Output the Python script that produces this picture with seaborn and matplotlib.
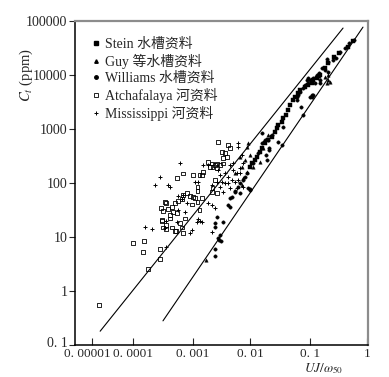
import matplotlib
matplotlib.use("Agg")
import numpy as np
import pandas as pd
import matplotlib.pyplot as plt
import seaborn as sns
from matplotlib.lines import Line2D
from matplotlib.ticker import FixedLocator, NullLocator
from matplotlib.transforms import ScaledTranslation

# ─── Data ────────────────────────────────────────────────────────────────────
stein_x = [0.57, 0.47, 0.32, 0.26, 0.21, 0.18, 0.15, 0.133, 0.113, 0.108, 0.093, 0.083,
           0.068, 0.063, 0.056, 0.052, 0.046, 0.043, 0.04, 0.035, 0.034, 0.029, 0.028,
           0.026, 0.023, 0.02, 0.018, 0.016, 0.0147, 0.013, 0.012, 0.0108, 0.01]
stein_c = [43000, 33000, 25500, 21500, 16700, 13500, 10000, 8800, 8100, 7100, 6500, 6000,
           5300, 4600, 3900, 3400, 2800, 2250, 1800, 1600, 1340, 1180, 1040,
           880, 710, 630, 550, 445, 375, 300, 270, 230, 200]

williams_x = [0.59, 0.48, 0.41, 0.34, 0.29, 0.25, 0.21, 0.2, 0.18, 0.16, 0.145, 0.133,
              0.113, 0.1, 0.093, 0.083, 0.076, 0.068, 0.063, 0.06, 0.093, 0.089, 0.15,
              0.122, 0.108, 0.1, 0.21, 0.15, 0.113, 0.108, 0.076, 0.071, 0.06, 0.034,
              0.029, 0.021, 0.0185, 0.035,
              0.0089, 0.0082, 0.0075, 0.0066, 0.0062, 0.0055, 0.0048, 0.01, 0.01, 0.0066,
              0.0055, 0.0041, 0.0044, 0.0034, 0.0026, 0.003, 0.0029, 0.0031, 0.0024,
              0.0024, 0.0027, 0.0024, 0.0024, 0.0135, 0.016, 0.018, 0.021, 0.019, 0.0112,
              0.0044, 0.016, 0.02, 0.023, 0.0093]
williams_c = [44500, 39000, 31600, 26700, 20700, 19000, 17400, 19800, 12400, 13500, 10900, 10000,
              8900, 8100, 7100, 6500, 5700, 4800, 4300, 3900, 8900, 8100, 7100,
              7100, 4300, 3900, 11400, 8100, 4300, 3900, 1800, 2550, 3400, 500,
              580, 410, 330, 1090,
              153, 129, 114, 100, 84, 68, 54, 74, 77, 65,
              72, 39, 36, 19, 23.5, 11, 8.8, 8.4, 6.0,
              18, 9.6, 15, 4.5, 360, 550, 630, 445, 270, 230,
              53, 840, 630, 770, 81]

guy_x = [0.0017, 0.0055, 0.010, 0.0112, 0.0147, 0.0165, 0.020, 0.0089, 0.0075, 0.0072,
         0.0089, 0.0092, 0.0066, 0.0082, 0.0072, 0.225, 0.21, 0.183, 0.145, 0.122, 0.2, 0.21]
guy_c = [3.7, 153, 330, 200, 245, 445, 780, 160, 124, 92,
         460, 550, 300, 267, 200, 7400, 8100, 9200, 9600, 9200, 7200, 10000]

atch_x = [1.5e-5, 1.0e-4, 1.5e-4, 1.45e-4, 1.8e-4, 2.8e-4, 2.8e-4,
          2.9e-4, 3.0e-4, 3.5e-4, 4.2e-4, 4.5e-4, 4.6e-4, 5.0e-4, 5.4e-4, 3.5e-4, 3.6e-4,
          4.5e-4, 5.0e-4, 6.1e-4, 6.6e-4, 6.8e-4, 7.4e-4, 6.8e-4, 7.9e-4, 8.9e-4, 1.1e-3,
          1.2e-3, 1.2e-3, 9.5e-4, 3.2e-4, 3.8e-4, 3.4e-4, 5.6e-4, 6.6e-4, 1.0e-3, 4.1e-4,
          3.0e-4, 3.2e-4, 5.3e-4, 1.3e-3, 1.45e-3,
          5.4e-4, 6.8e-4, 1.0e-3, 1.45e-3, 1.5e-3, 1.8e-3, 2.15e-3, 2.7e-3, 2.4e-3, 2.6e-3,
          4.1e-3, 4.4e-3, 3.2e-3, 3.6e-3, 3.4e-3, 4.0e-3, 2.6e-3, 3.0e-3, 2.2e-3, 3.4e-3,
          2.4e-3, 2.2e-3, 2.15e-3, 2.6e-3, 2.0e-3, 1.3e-3, 1.2e-3]
atch_c = [0.55, 7.7, 8.5, 5.3, 2.6, 6.0, 3.9,
          34, 21, 43, 26, 36, 29, 42, 28, 17, 14,
          15, 13, 18, 15, 12, 22, 60, 65, 58, 53,
          45, 70, 40, 30, 33, 45, 46, 50, 55, 22,
          20, 15, 13, 32, 53,
          125, 150, 140, 140, 160, 245, 230, 570, 215, 190,
          500, 450, 375, 360, 290, 300, 230, 215, 200, 230,
          115, 80, 68, 65, 200, 140, 85]

miss_x = [3.6e-4, 2.1e-4, 2.3e-4, 4.1e-4, 2.8e-4, 6.1e-4, 1.1e-3, 1.2e-3, 1.5e-3,
          6.8e-4, 5.6e-4, 6.6e-4, 7.9e-4, 8.9e-4, 9.6e-4, 3.6e-4, 5.6e-4, 1.18e-3, 7.4e-4,
          3.4e-4, 5.4e-4, 1.2e-3, 1.33e-3, 1.44e-3, 1.83e-3, 2.15e-3, 2.4e-3,
          6.2e-3, 6.2e-3, 7.2e-3, 5.0e-3, 4.4e-3, 3.6e-3, 3.0e-3, 4.1e-3, 4.8e-3, 3.25e-3,
          3.6e-3, 5.5e-3, 5.9e-3, 4.4e-3, 3.0e-3, 3.4e-3, 6.6e-3, 2.7e-3, 7.5e-3, 6.6e-3,
          5.9e-3, 5.0e-3, 6.2e-3, 4.1e-3, 7.5e-3, 2.15e-3, 2.6e-3, 1.8e-3, 2.15e-3,
          1.6e-4, 3.8e-4]
miss_c = [6.5, 14, 92, 85, 130, 235, 105, 105, 215,
          60, 58, 50, 43, 12, 13.4, 20, 32, 19, 29,
          14.7, 19, 22, 20, 19, 43, 39, 34,
          550, 460, 330, 230, 215, 153, 140, 129, 114, 104,
          100, 104, 81, 81, 84, 68, 153, 174, 230, 190,
          153, 174, 114, 100, 84, 92, 104, 215, 12.4,
          15, 90]

# model curves (end points)
line1_x = [1.58e-5, 0.38]
line1_c = [0.18, 74000]
line2_x = [3.16e-4, 0.85]
line2_c = [0.28, 77000]

labels = ["Stein 水槽资料", "Guy 等水槽资料", "Williams 水槽资料",
          "Atchafalaya 河资料", "Mississippi 河资料"]
x_ticks = [1e-5, 1e-4, 1e-3, 1e-2, 1e-1, 1]
x_ticklabels = ["0. 00001", "0. 0001", "0. 001", "0. 01", "0. 1", "1"]
y_ticks = [0.1, 1, 10, 100, 1000, 10000, 100000]
y_ticklabels = ["0. 1", "1", "10", "100", "1000", "10000", "100000"]

# the printed x-axis is not evenly spaced per decade; calibrate it piecewise
X_DECADES = [-6, -5, -4, -3, -2, -1, 0, 1]
X_SPACING = [51, 92, 133, 193, 250, 310, 367, 424]


def fwd(x):
    x = np.clip(np.asarray(x, dtype=float), 1e-12, None)
    return np.interp(np.log10(x), X_DECADES, X_SPACING)


def inv(p):
    return 10 ** np.interp(np.asarray(p, dtype=float), X_SPACING, X_DECADES)


# ─── Style ───────────────────────────────────────────────────────────────────
sns.set_style("ticks")
SERIF = ["Liberation Serif", "Noto Sans CJK SC", "DejaVu Serif"]
plt.rcParams["font.family"] = SERIF
plt.rcParams["mathtext.fontset"] = "stix"

fig = plt.figure(figsize=(3.89, 3.77), dpi=100)
ax = fig.add_axes([75 / 389, 1 - 345 / 377, 293 / 389, 324 / 377])

ax.set_xscale("function", functions=(fwd, inv))
ax.set_yscale("log")
ax.set_xlim(inv(75), inv(368))
ax.set_ylim(0.1, 100000)

# ─── Series ──────────────────────────────────────────────────────────────────
def frame(xs, cs):
    return pd.DataFrame({"x": xs, "c": cs})

sns.scatterplot(data=frame(stein_x, stein_c), x="x", y="c", ax=ax, marker="s",
                s=6, color="black", edgecolor="black", linewidth=0.3)
sns.scatterplot(data=frame(williams_x, williams_c), x="x", y="c", ax=ax, marker="o",
                s=6, color="black", edgecolor="black", linewidth=0.3)
sns.scatterplot(data=frame(guy_x, guy_c), x="x", y="c", ax=ax, marker="^",
                s=6, color="black", edgecolor="black", linewidth=0.3)
sns.scatterplot(data=frame(atch_x, atch_c), x="x", y="c", ax=ax, marker="s",
                s=8, facecolor="none", edgecolor="black", linewidth=0.6)
sns.scatterplot(data=frame(miss_x, miss_c), x="x", y="c", ax=ax, marker="+",
                s=11, color="black", linewidth=0.7)

sns.lineplot(x=line1_x, y=line1_c, ax=ax, color="black", lw=0.8, sort=False)
sns.lineplot(x=line2_x, y=line2_c, ax=ax, color="black", lw=0.8, sort=False)

# ─── Axes ────────────────────────────────────────────────────────────────────
ax.xaxis.set_major_locator(FixedLocator(x_ticks))
ax.xaxis.set_minor_locator(NullLocator())
ax.set_xticklabels(x_ticklabels)
ax.yaxis.set_major_locator(FixedLocator(y_ticks))
ax.yaxis.set_minor_locator(NullLocator())
ax.set_yticklabels(y_ticklabels)
ax.tick_params(axis="x", direction="in", length=5, width=0.8, labelsize=9.5, pad=2)
ax.tick_params(axis="y", direction="out", length=4, width=0.8, labelsize=10, pad=1.5)
ax.set_xlabel("")
ax.set_ylabel("")

# the corner labels are nudged apart in the original
first_x = ax.get_xticklabels()[0]
first_x.set_transform(first_x.get_transform() + ScaledTranslation(-5 / 100, 0, fig.dpi_scale_trans))
first_y = ax.get_yticklabels()[0]
first_y.set_transform(first_y.get_transform() + ScaledTranslation(0, 3 / 100, fig.dpi_scale_trans))

for side in ["left", "bottom"]:
    ax.spines[side].set_color("black")
    ax.spines[side].set_linewidth(1.1)
for side in ["top", "right"]:
    ax.spines[side].set_visible(True)
    ax.spines[side].set_color("#8c8c8c")
    ax.spines[side].set_linewidth(1.6)

fig.text(26 / 389, 1 - 75 / 377, r"$C_t$ (ppm)", rotation=90, ha="center",
         va="center", fontsize=10.5)
fig.text(324 / 389, 1 - 372 / 377, r"$UJ/\omega_{50}$", ha="center", va="baseline",
         fontsize=9.5)

handles = [
    Line2D([], [], ls="", marker="s", ms=2.5, color="black"),
    Line2D([], [], ls="", marker="^", ms=2.5, color="black"),
    Line2D([], [], ls="", marker="o", ms=2.5, color="black"),
    Line2D([], [], ls="", marker="s", ms=3, mfc="none", mec="black", mew=0.6),
    Line2D([], [], ls="", marker="+", ms=3.5, color="black", mew=0.7),
]
leg = ax.legend(handles, labels, loc="upper left", bbox_to_anchor=(0.04, 0.966),
                frameon=False, handlelength=0.5, handletextpad=0.4,
                labelspacing=0.2, borderaxespad=0, prop={"family": SERIF, "size": 10})

fig.savefig("out.png", dpi=100)
